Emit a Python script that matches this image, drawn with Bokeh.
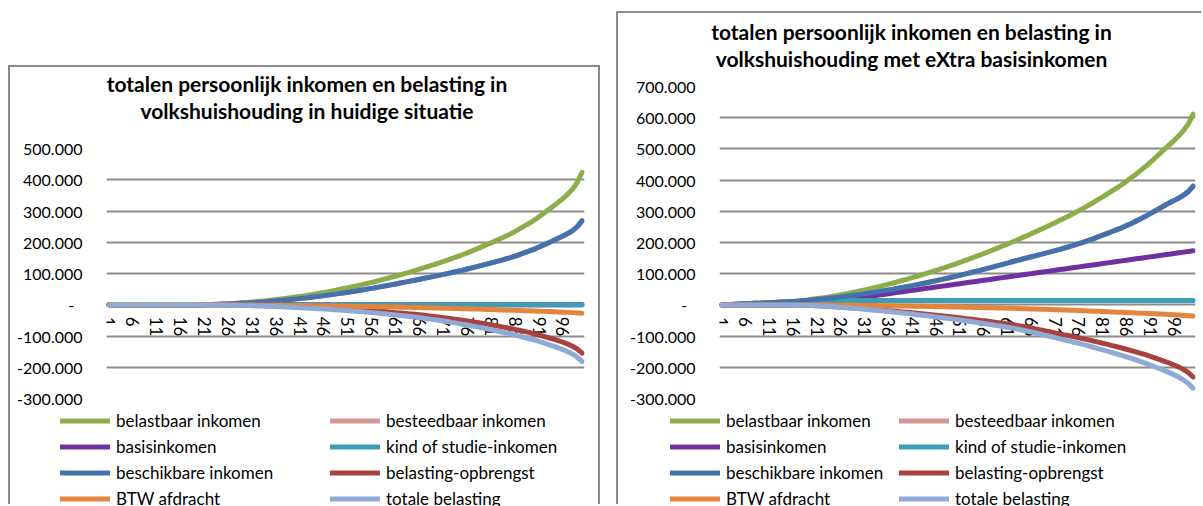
from bokeh.plotting import figure
from bokeh.models import Range1d, FixedTicker, Legend, LegendItem, Div, Spacer, ColumnDataSource
from bokeh.layouts import row, column
from bokeh.embed import file_html
from bokeh.resources import INLINE

FONT = "Lato"

# ---------------- categories / ticks ----------------
percentile = list(range(1, 101))
x_tick_values = [1, 6, 11, 16, 21, 26, 31, 36, 41, 46, 51, 56, 61, 66, 71, 76, 81, 86, 91, 96]

y_ticks_left = [-300, -200, -100, 0, 100, 200, 300, 400, 500]
y_labels_left = ["-300.000", "-200.000", "-100.000", "-\u00a0\u00a0", "100.000", "200.000",
                 "300.000", "400.000", "500.000"]
y_ticks_right = [-300, -200, -100, 0, 100, 200, 300, 400, 500, 600, 700]
y_labels_right = ["-300.000", "-200.000", "-100.000", "-\u00a0\u00a0", "100.000", "200.000",
                  "300.000", "400.000", "500.000", "600.000", "700.000"]

series_labels = ["belastbaar inkomen", "besteedbaar inkomen", "basisinkomen",
                 "kind of studie-inkomen", "beschikbare inkomen", "belasting-opbrengst",
                 "BTW afdracht", "totale belasting"]
series_colors = ["#8BAE4B", "#D69492", "#7030A0", "#3E9CB4", "#4472AD", "#A9423E",
                 "#E5843B", "#8FAAD5"]

title_left = ["totalen persoonlijk inkomen en belasting in", "volkshuishouding in huidige situatie"]
title_right = ["totalen persoonlijk inkomen en belasting in", "volkshuishouding met eXtra basisinkomen"]

# ---------------- values (x 1000) : huidige situatie ----------------
belastbaar_L = [
    0, 0, 0, 0, 0, 0, 0, 0, 0, 0,
    0, 0, 0, 0, 0, 0, 0, 0, 0.1, 0.3,
    0.6, 1.0, 1.5, 2.0, 2.7, 3.5, 4.4, 5.3, 6.4, 7.6,
    8.8, 10.2, 11.6, 13.2, 14.8, 16.6, 18.4, 20.3, 22.4, 24.5,
    26.7, 29.1, 31.5, 34.0, 36.6, 39.3, 42.1, 45.0, 48.0, 51.1,
    54.3, 57.6, 61.0, 64.5, 68.1, 71.7, 75.5, 79.4, 83.4, 87.4,
    91.6, 95.8, 100.2, 104.7, 109.2, 113.8, 118.6, 123.4, 128.4, 133.4,
    138.5, 143.8, 149.1, 154.5, 160.0, 166.2, 172.4, 178.8, 185.2, 191.8,
    198.5, 205.3, 212.3, 219.3, 226.5, 235.0, 243.7, 252.5, 261.5, 270.6,
    281.6, 292.7, 304.2, 315.8, 327.6, 340.0, 354.0, 370.0, 392.0, 424.0]
besteedbaar_L = [
    0, 0, 0, 0, 0, 0, 0, 0, 0, 0,
    0, 0, 0, 0, 0, 0, 0, 0, 0.1, 0.2,
    0.5, 0.8, 1.2, 1.6, 2.1, 2.7, 3.4, 4.1, 5.0, 5.8,
    6.7, 7.7, 8.8, 10.0, 11.2, 12.5, 13.9, 15.3, 16.8, 18.4,
    20.0, 21.8, 23.5, 25.4, 27.3, 29.2, 31.3, 33.4, 35.6, 37.8,
    40.1, 42.5, 44.9, 47.4, 49.9, 52.5, 55.2, 57.9, 60.7, 63.5,
    66.4, 69.4, 72.4, 75.5, 78.6, 81.6, 84.7, 87.7, 90.9, 94.0,
    97.2, 100.5, 103.8, 107.1, 110.4, 114.3, 118.1, 122.0, 125.9, 129.9,
    134.0, 138.1, 142.2, 146.4, 150.6, 155.9, 161.3, 166.8, 172.3, 177.9,
    184.7, 191.6, 198.6, 205.7, 212.9, 220.0, 228.0, 237.2, 250.1, 269.2]
basis_L = [
    0, 0, 0, 0, 0, 0, 0, 0, 0, 0,
    0, 0, 0, 0, 0, 0, 0, 0, 0, 0,
    0, 0, 0, 0, 0, 0, 0, 0, 0, 0,
    0, 0, 0, 0, 0, 0, 0, 0, 0, 0,
    0, 0, 0, 0, 0, 0, 0, 0, 0, 0,
    0, 0, 0, 0, 0, 0, 0, 0, 0, 0,
    0, 0, 0, 0, 0, 0, 0, 0, 0, 0,
    0, 0, 0, 0, 0, 0, 0, 0, 0, 0,
    0, 0, 0, 0, 0, 0, 0, 0, 0, 0,
    0, 0, 0, 0, 0, 0, 0, 0, 0, 0]
kind_L = [
    0, 0, 0, 0, 0, 0, 0, 0, 0, 0,
    0, 0, 0, 0, 0, 0, 0, 0, 0, 0,
    0, 0, 0, 0, 0, 0, 0, 0, 0, 0,
    0, 0, 0, 0, 0, 0, 0, 0, 0, 0,
    0, 0, 0, 0, 0, 0, 0, 0, 0, 0,
    0, 0, 0, 0, 0, 0, 0, 0, 0, 0,
    0, 0, 0, 0, 0, 0, 0, 0, 0, 0,
    0, 0, 0, 0, 0, 0, 0, 0, 0, 0,
    0, 0, 0, 0, 0, 0, 0, 0, 0, 0,
    0, 0, 0, 0, 0, 0, 0, 0, 0, 0]
beschikbaar_L = [
    0, 0, 0, 0, 0, 0, 0, 0, 0, 0,
    0, 0, 0, 0, 0, 0, 0, 0, 0.1, 0.2,
    0.5, 0.8, 1.2, 1.6, 2.1, 2.7, 3.4, 4.1, 5.0, 5.8,
    6.7, 7.7, 8.8, 10.0, 11.2, 12.5, 13.9, 15.3, 16.8, 18.4,
    20.0, 21.8, 23.5, 25.4, 27.3, 29.2, 31.3, 33.4, 35.6, 37.8,
    40.1, 42.5, 44.9, 47.4, 49.9, 52.5, 55.2, 57.9, 60.7, 63.5,
    66.4, 69.4, 72.4, 75.5, 78.6, 81.6, 84.7, 87.7, 90.9, 94.0,
    97.2, 100.5, 103.8, 107.1, 110.4, 114.3, 118.1, 122.0, 125.9, 129.9,
    134.0, 138.1, 142.2, 146.4, 150.6, 155.9, 161.3, 166.8, 172.3, 177.9,
    184.7, 191.6, 198.6, 205.7, 212.9, 220.0, 228.0, 237.2, 250.1, 269.2]
belasting_L = [
    0, 0, 0, 0, 0, 0, 0, 0, 0, 0,
    0, 0, 0, 0, 0, 0, 0, 0, 0.0, -0.1,
    -0.1, -0.2, -0.3, -0.4, -0.6, -0.8, -1.0, -1.2, -1.4, -1.8,
    -2.1, -2.5, -2.8, -3.2, -3.6, -4.1, -4.5, -5.0, -5.6, -6.1,
    -6.7, -7.3, -8.0, -8.6, -9.3, -10.1, -10.8, -11.6, -12.4, -13.3,
    -14.2, -15.1, -16.1, -17.1, -18.2, -19.2, -20.3, -21.5, -22.7, -23.9,
    -25.2, -26.4, -27.8, -29.2, -30.6, -32.2, -33.9, -35.7, -37.5, -39.4,
    -41.3, -43.3, -45.3, -47.4, -49.6, -51.9, -54.3, -56.8, -59.3, -61.9,
    -64.5, -67.2, -70.1, -72.9, -75.9, -79.1, -82.4, -85.7, -89.2, -92.7,
    -96.9, -101.1, -105.6, -110.1, -114.7, -120.0, -126.0, -132.8, -141.9, -154.8]
btw_L = [
    0, 0, 0, 0, 0, 0, 0, 0, 0, 0,
    0, 0, 0, 0, 0, 0, 0, -0.1, -0.1, -0.2,
    -0.2, -0.3, -0.3, -0.4, -0.5, -0.6, -0.7, -0.8, -0.9, -1.0,
    -1.1, -1.2, -1.4, -1.5, -1.6, -1.8, -1.9, -2.1, -2.3, -2.5,
    -2.7, -2.9, -3.1, -3.3, -3.5, -3.7, -3.9, -4.1, -4.3, -4.5,
    -4.7, -5.0, -5.2, -5.5, -5.7, -6.0, -6.2, -6.5, -6.7, -7.0,
    -7.3, -7.7, -8.0, -8.4, -8.7, -9.1, -9.4, -9.8, -10.1, -10.5,
    -10.9, -11.3, -11.8, -12.2, -12.6, -13.0, -13.5, -14.0, -14.5, -15.0,
    -15.5, -16.0, -16.5, -17.0, -17.5, -18.0, -18.5, -19.0, -19.5, -20.0,
    -20.6, -21.2, -21.8, -22.4, -23.0, -23.7, -24.4, -25.2, -26.0, -27.0]
totaal_L = [
    0, 0, 0, 0, 0, 0, 0, 0, 0, 0,
    0, 0, 0, 0, 0, 0, 0, -0.1, -0.1, -0.3,
    -0.3, -0.5, -0.6, -0.8, -1.1, -1.4, -1.7, -2.0, -2.3, -2.8,
    -3.2, -3.7, -4.2, -4.7, -5.2, -5.9, -6.4, -7.1, -7.9, -8.6,
    -9.4, -10.2, -11.1, -11.9, -12.8, -13.8, -14.7, -15.7, -16.7, -17.8,
    -18.9, -20.1, -21.3, -22.6, -23.9, -25.2, -26.5, -28.0, -29.4, -30.9,
    -32.5, -34.1, -35.8, -37.6, -39.3, -41.3, -43.3, -45.5, -47.6, -49.9,
    -52.2, -54.6, -57.1, -59.6, -62.2, -64.9, -67.8, -70.8, -73.8, -76.9,
    -80.0, -83.2, -86.6, -89.9, -93.4, -97.1, -100.9, -104.7, -108.7, -112.7,
    -117.5, -122.3, -127.4, -132.5, -137.7, -143.7, -150.4, -158.0, -167.9, -181.8]

# ---------------- values (x 1000) : met eXtra basisinkomen ----------------
belastbaar_R = [
    0, 0.7, 1.4, 2.1, 2.8, 3.5, 4.2, 4.9, 5.6, 6.3,
    7.0, 7.7, 8.4, 9.1, 9.8, 11.0, 12.2, 13.9, 15.7, 18.1,
    20.6, 22.5, 24.5, 27.0, 29.7, 32.5, 35.4, 38.3, 41.4, 44.6,
    47.8, 51.4, 54.9, 58.7, 62.4, 66.4, 70.3, 74.4, 78.6, 82.9,
    87.2, 91.8, 96.3, 101.0, 105.7, 110.6, 115.5, 120.6, 125.7, 131.0,
    136.3, 141.8, 147.3, 153.0, 158.7, 164.5, 170.4, 176.5, 182.6, 188.8,
    195.1, 201.5, 208.0, 214.7, 221.3, 228.1, 235.0, 242.0, 249.1, 256.3,
    263.5, 271.0, 278.4, 286.0, 293.6, 302.0, 310.3, 318.9, 327.4, 337.2,
    346.5, 356.0, 365.6, 375.3, 385.1, 396.3, 407.6, 419.1, 431.2, 443.5,
    457.1, 470.9, 485.0, 499.3, 513.2, 526.8, 541.9, 559.1, 580.2, 611.4]
besteedbaar_R = [
    0, 0.7, 1.4, 2.1, 2.8, 3.5, 4.2, 4.9, 5.6, 6.3,
    7.0, 7.7, 8.4, 9.1, 9.8, 10.8, 11.8, 13.1, 14.5, 16.2,
    18.1, 19.3, 20.6, 22.2, 23.9, 25.7, 27.6, 29.5, 31.6, 33.6,
    35.7, 38.0, 40.4, 42.9, 45.4, 48.0, 50.6, 53.4, 56.1, 59.0,
    61.9, 65.0, 68.0, 71.2, 74.4, 77.6, 80.9, 84.4, 87.8, 91.3,
    94.9, 98.6, 102.3, 106.1, 109.9, 113.8, 117.7, 121.8, 125.8, 129.9,
    134.1, 138.4, 142.3, 146.3, 150.3, 154.2, 158.1, 161.9, 165.9, 169.9,
    173.8, 177.9, 182.4, 186.9, 191.4, 196.5, 201.5, 206.6, 211.7, 217.9,
    223.7, 229.5, 235.3, 241.2, 247.1, 254.1, 261.2, 268.5, 276.1, 284.0,
    292.4, 301.1, 309.7, 318.6, 327.0, 334.3, 342.5, 351.9, 363.0, 380.3]
basis_R = [
    0, 0, 0, 0, 0, 0, 0, 0, 0, 0,
    0, 0, 0, 0, 0, 0.5, 1.0, 2.0, 3.0, 4.5,
    6.0, 7.5, 9.0, 11.0, 13.0, 15.0, 17.0, 19.0, 21.0, 23.0,
    25.0, 27.2, 29.3, 31.5, 33.6, 35.8, 37.9, 40.1, 42.2, 44.4,
    46.5, 48.7, 50.8, 53.0, 55.1, 57.3, 59.4, 61.6, 63.7, 65.9,
    68.0, 70.2, 72.3, 74.5, 76.6, 78.8, 80.9, 83.1, 85.2, 87.4,
    89.5, 91.7, 93.8, 96.0, 98.1, 100.3, 102.4, 104.6, 106.7, 108.9,
    111.0, 113.2, 115.3, 117.5, 119.6, 121.8, 123.9, 126.1, 128.2, 130.4,
    132.5, 134.7, 136.8, 139.0, 141.1, 143.3, 145.4, 147.6, 149.7, 151.9,
    154.0, 156.2, 158.3, 160.5, 162.6, 164.8, 166.9, 169.1, 171.2, 173.4]
kind_R = [
    0, 0.7, 1.4, 2.1, 2.8, 3.5, 4.2, 4.9, 5.6, 6.3,
    7.0, 7.7, 8.4, 9.1, 9.8, 10.5, 11.2, 11.9, 12.6, 13.3,
    14.0, 14.0, 14.0, 14.0, 14.0, 14.0, 14.0, 14.0, 14.0, 14.0,
    14.0, 14.0, 14.0, 14.0, 14.0, 14.0, 14.0, 14.0, 14.0, 14.0,
    14.0, 14.0, 14.0, 14.0, 14.0, 14.0, 14.0, 14.0, 14.0, 14.0,
    14.0, 14.0, 14.0, 14.0, 14.0, 14.0, 14.0, 14.0, 14.0, 14.0,
    14.0, 14.0, 14.0, 14.0, 14.0, 14.0, 14.0, 14.0, 14.0, 14.0,
    14.0, 14.0, 14.0, 14.0, 14.0, 14.0, 14.0, 14.0, 14.0, 14.0,
    14.0, 14.0, 14.0, 14.0, 14.0, 14.0, 14.0, 14.0, 14.0, 14.0,
    14.0, 14.0, 14.0, 14.0, 14.0, 14.0, 14.0, 14.0, 14.0, 14.0]
beschikbaar_R = [
    0, 0.7, 1.4, 2.1, 2.8, 3.5, 4.2, 4.9, 5.6, 6.3,
    7.0, 7.7, 8.4, 9.1, 9.8, 10.8, 11.8, 13.1, 14.5, 16.2,
    18.1, 19.3, 20.6, 22.2, 23.9, 25.7, 27.6, 29.5, 31.6, 33.6,
    35.7, 38.0, 40.4, 42.9, 45.4, 48.0, 50.6, 53.4, 56.1, 59.0,
    61.9, 65.0, 68.0, 71.2, 74.4, 77.6, 80.9, 84.4, 87.8, 91.3,
    94.9, 98.6, 102.3, 106.1, 109.9, 113.8, 117.7, 121.8, 125.8, 129.9,
    134.1, 138.4, 142.3, 146.3, 150.3, 154.2, 158.1, 161.9, 165.9, 169.9,
    173.8, 177.9, 182.4, 186.9, 191.4, 196.5, 201.5, 206.6, 211.7, 217.9,
    223.7, 229.5, 235.3, 241.2, 247.1, 254.1, 261.2, 268.5, 276.1, 284.0,
    292.4, 301.1, 309.7, 318.6, 327.0, 334.3, 342.5, 351.9, 363.0, 380.3]
belasting_R = [
    0, 0, 0, 0, 0, 0, 0, 0, 0, 0,
    0, 0, 0, 0, 0, -0.2, -0.4, -0.8, -1.2, -1.9,
    -2.5, -3.2, -3.9, -4.8, -5.8, -6.8, -7.8, -8.8, -9.8, -11.0,
    -12.1, -13.4, -14.5, -15.8, -17.0, -18.4, -19.7, -21.0, -22.5, -23.9,
    -25.3, -26.8, -28.3, -29.8, -31.3, -33.0, -34.6, -36.2, -37.9, -39.7,
    -41.4, -43.2, -45.0, -46.9, -48.8, -50.7, -52.7, -54.7, -56.8, -58.9,
    -61.0, -63.1, -65.7, -68.4, -71.0, -73.9, -76.9, -80.1, -83.2, -86.4,
    -89.7, -93.1, -96.0, -99.1, -102.2, -105.5, -108.8, -112.3, -115.7, -119.3,
    -122.8, -126.5, -130.3, -134.1, -138.0, -142.2, -146.4, -150.6, -155.1, -159.5,
    -164.7, -169.8, -175.3, -180.7, -186.2, -192.5, -199.4, -207.2, -217.2, -231.1]
btw_R = [
    0, 0, 0, 0, 0, 0, 0, 0, 0, 0,
    0, 0, 0, 0, 0, 0.0, 0.0, -0.2, -0.2, -0.3,
    -0.4, -0.5, -0.5, -0.7, -0.9, -1.0, -1.2, -1.3, -1.5, -1.7,
    -1.8, -2.0, -2.3, -2.4, -2.6, -2.9, -3.0, -3.3, -3.6, -3.9,
    -4.2, -4.5, -4.7, -5.0, -5.3, -5.6, -5.9, -6.2, -6.4, -6.7,
    -7.0, -7.4, -7.7, -8.1, -8.4, -8.8, -9.1, -9.5, -9.7, -10.2,
    -10.6, -11.1, -11.5, -12.0, -12.4, -12.9, -13.3, -13.9, -14.3, -14.8,
    -15.3, -15.8, -16.5, -17.0, -17.5, -18.0, -18.7, -19.3, -20.0, -20.6,
    -21.3, -21.9, -22.5, -23.2, -23.8, -24.5, -25.1, -25.8, -26.4, -27.0,
    -27.8, -28.6, -29.3, -30.1, -30.9, -31.7, -32.6, -33.6, -34.6, -35.9]
totaal_R = [
    0, 0, 0, 0, 0, 0, 0, 0, 0, 0,
    0, 0, 0, 0, 0, -0.2, -0.4, -1.0, -1.4, -2.2,
    -2.9, -3.7, -4.4, -5.5, -6.7, -7.8, -9.0, -10.1, -11.3, -12.7,
    -13.9, -15.4, -16.8, -18.2, -19.6, -21.3, -22.7, -24.3, -26.1, -27.8,
    -29.5, -31.3, -33.0, -34.8, -36.6, -38.6, -40.5, -42.4, -44.3, -46.4,
    -48.4, -50.6, -52.7, -55.0, -57.2, -59.5, -61.8, -64.2, -66.5, -69.1,
    -71.6, -74.2, -77.2, -80.4, -83.4, -86.8, -90.2, -94.0, -97.5, -101.2,
    -105.0, -108.9, -112.5, -116.1, -119.7, -123.5, -127.5, -131.6, -135.7, -139.9,
    -144.1, -148.4, -152.8, -157.3, -161.8, -166.7, -171.5, -176.4, -181.5, -186.5,
    -192.5, -198.4, -204.6, -210.8, -217.1, -224.2, -232.0, -240.8, -251.8, -267.0]

series_left = [belastbaar_L, besteedbaar_L, basis_L, kind_L, beschikbaar_L, belasting_L, btw_L, totaal_L]
series_right = [belastbaar_R, besteedbaar_R, basis_R, kind_R, beschikbaar_R, belasting_R, btw_R, totaal_R]

BORDER = "#8a8a8a"
GRID = "#8c8c8c"
LINE_W = 5


def no_frame_align(fig):
    try:
        fig.frame_align = False
    except Exception:
        pass


def build_chart(title_lines, values, y_ticks, y_labels, box_w, box_h, title_pad, title_top,
                border_left, border_right, border_top, legend_left, legend_label_w, shadow):
    title_h = 60
    legend_h = 96
    html = ('<div style="width:%dpx;box-sizing:border-box;padding-left:%dpx;padding-top:%dpx;'
            'margin:0;font-family:%s;font-weight:bold;font-size:21px;line-height:27px;'
            'text-align:center;color:#000000;white-space:nowrap;">%s<br>%s</div>'
            % (box_w, title_pad, title_top, FONT, title_lines[0], title_lines[1]))
    div = Div(text=html, width=box_w, height=title_h, margin=0)

    p = figure(width=box_w, height=box_h - title_h - legend_h,
               x_range=Range1d(0.5, 100.5), y_range=Range1d(y_ticks[0], y_ticks[-1]),
               output_backend="svg", toolbar_location=None,
               min_border_left=border_left, min_border_right=border_right,
               min_border_top=border_top, min_border_bottom=12)
    no_frame_align(p)
    p.outline_line_color = None
    p.background_fill_color = "white"
    p.border_fill_color = "white"

    yt = FixedTicker(ticks=y_ticks)
    yax = p.yaxis[0]
    yax.ticker = yt
    yax.major_label_overrides = {t: lab for t, lab in zip(y_ticks, y_labels)}
    yax.axis_line_color = None
    yax.major_tick_line_color = None
    yax.minor_tick_line_color = None
    yax.major_tick_out = 0
    yax.major_tick_in = 0
    yax.major_label_standoff = 24
    yax.major_label_text_font = FONT
    yax.major_label_text_font_size = "16px"
    yax.major_label_text_color = "#000000"

    xax = p.xaxis[0]
    xax.ticker = FixedTicker(ticks=x_tick_values)
    xax.fixed_location = 0
    xax.level = "underlay"
    xax.axis_line_color = None
    xax.major_tick_line_color = None
    xax.minor_tick_line_color = None
    xax.major_tick_out = 0
    xax.major_tick_in = 0
    xax.major_label_standoff = 12
    xax.major_label_orientation = "vertical"
    xax.major_label_text_font = FONT
    xax.major_label_text_font_size = "17px"
    xax.major_label_text_color = "#000000"

    p.xgrid.visible = False
    p.ygrid[0].ticker = yt
    p.ygrid.grid_line_color = GRID
    p.ygrid.grid_line_width = 1.8

    data = {"x": percentile}
    for i, vals in enumerate(values):
        data["s%d" % i] = vals
    src = ColumnDataSource(data)
    for i, col in enumerate(series_colors):
        p.line("x", "s%d" % i, source=src, line_color=col, line_width=LINE_W,
               line_cap="round", line_join="round")

    # legend strip below the plot area (inside the same chart box).
    # Its renderers share the series data, but the strip's y range lies far above
    # the data, so only the legend swatches and labels show.
    lf = figure(width=box_w, height=legend_h, x_range=Range1d(0.5, 100.5),
                y_range=Range1d(5000, 6000),
                output_backend="svg", toolbar_location=None,
                x_axis_location=None, y_axis_location=None,
                min_border_left=legend_left, min_border_right=0,
                min_border_top=0, min_border_bottom=0)
    no_frame_align(lf)
    lf.grid.visible = False
    lf.outline_line_color = None
    lf.background_fill_color = "white"
    lf.border_fill_color = "white"
    items = []
    for i, (lab, col) in enumerate(zip(series_labels, series_colors)):
        r = lf.line("x", "s%d" % i, source=src, line_color=col, line_width=LINE_W,
                    line_cap="round", line_join="round")
        items.append(LegendItem(label=lab, renderers=[r]))
    legend = Legend(items=items, ncols=2, orientation="horizontal",
                    location="top_left", padding=0, margin=0, spacing=5,
                    glyph_width=50, glyph_height=21, label_height=21,
                    label_width=legend_label_w, label_standoff=6,
                    label_text_font=FONT, label_text_font_size="17px",
                    label_text_color="#000000",
                    border_line_color=None, background_fill_alpha=0)
    lf.add_layout(legend)

    box = column(div, p, lf, styles={"box-shadow": shadow, "background-color": "white"})
    return box


left_box = build_chart(title_left, series_left, y_ticks_left, y_labels_left,
                       box_w=588, box_h=439, title_pad=6, title_top=3,
                       border_left=96, border_right=14, border_top=21,
                       legend_left=50, legend_label_w=209,
                       shadow="-2px -2px 0 0 %s, 2px -2px 0 0 %s" % (BORDER, BORDER))
right_box = build_chart(title_right, series_right, y_ticks_right, y_labels_right,
                        box_w=585, box_h=493, title_pad=2, title_top=5,
                        border_left=101, border_right=8, border_top=13,
                        legend_left=52, legend_label_w=168,
                        shadow="-2px -2px 0 0 %s" % BORDER)

layout = row(Spacer(width=10),
             column(Spacer(height=67), left_box),
             Spacer(width=20),
             column(Spacer(height=13), right_box))

open("out.html", "w").write(file_html(layout, INLINE))
